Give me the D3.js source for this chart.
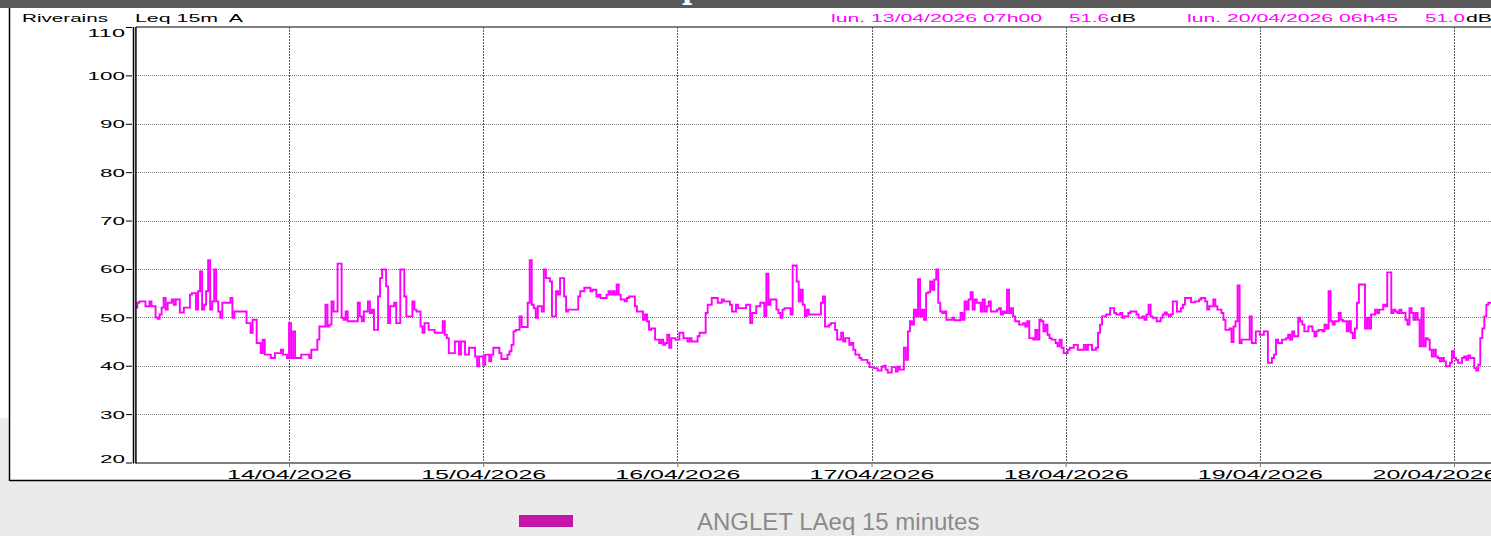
<!DOCTYPE html>
<html>
<head>
<meta charset="utf-8">
<script src="https://cdn.jsdelivr.net/npm/d3@7"></script>
<style>
  html, body { margin: 0; padding: 0; background: #fff; overflow: hidden; }
  svg { display: block; font-family: "Liberation Sans", Arial, sans-serif; }
</style>
</head>
<body>
<div id="chart"></div>
<script>
// Data: LAeq 15 min, first sample 13/04/2026 05h00, one value per quarter hour
var startTime = new Date(2026, 3, 13, 5, 0);
var stepMinutes = 15;
var laeq = [
  // 13/04
  52,53,53.3,53.3, 53.3,52.3,52.3,53.3, 52.3,52.3,50,49.7, 50.6,52,54,51.6, 53,53,53.7,52.6, 53.7,53.7,51,51,
  52,52,52,54.7, 55,55,51.6,55.4, 59.5,51.6,52.6,55.4, 61.8,51.6,53.3,59.9, 53.3,51.2,49.9,53, 53,53,53,54,
  49.9,51.2,51.2,51.2, 51.2,51.2,51.2,48.8, 48.8,46.8,49.5,49.5, 44.7,44.7,42.6,45.4, 42.3,42.3,42.3,41.6,
  41.6,42.6,42.6,42.6, 43.3,42.3,42.3,41.6,
  // 14/04
  48.8,41.6,47.1,41.6, 41.6,41.6,42.3,42.3, 42.3,42.3,41.6,43.3, 43.3,43.3,45.4,48.1, 48.1,48.1,52.6,48.1,
  48.5,53.3,51.2,51.2, 61.1,61.1,49.9,49.5, 51.2,49.2,49.2,49.2, 49.2,49.2,53,50.2, 49.2,51.2,51.2,53.3,
  50.9,51.6,47.4,47.4, 54.3,58.1,59.9,59.9, 56.4,48.8,52.3,52.3, 53,48.8,48.8,59.9, 59.9,54.3,50.2,50.2,
  50.2,53.3,51.6,51.2, 51.2,48.1,46.8,48.8, 48.8,47.4,47.4,47.4, 46.8,46.8,46.8,46.8, 49.2,46.4,45.7,42.6,
  42.6,42.6,45,45, 42.3,45,45,42.3, 42.3,43.7,43.7,43.7, 41.9,39.9,41.9,41.9,
  // 15/04
  40.2,42.3,42.3,40.9, 42.3,43.7,43.7,43.7, 42.6,41.4,41.4,41.4, 42.3,43,44.3,47.1, 47.4,47.4,50.2,48,
  48,48,53,61.8, 52.6,51.9,49.9,52.3, 52.3,51.2,59.9,58.1, 58.1,57.4,50.2,50.2, 55.4,54.7,58.1,58.1,
  54.3,51.2,51.6,51.6, 51.6,51.6,51.6,54.3, 55.4,55.4,56.1,56.1, 56.1,55.4,55.7,55.7, 54.3,54.7,54,54,
  54,54.7,55.4,54.7, 55.4,54.7,56.8,54.7, 53.7,53.7,53.3,54, 54.3,54.3,54.3,52.3, 51.2,51.2,51.2,49.5,
  50.6,49.2,47.4,47.7, 47.7,45.4,45.4,44.7, 45.4,44.3,44.7,46.4, 43.7,45.7,45.7,45.4,
  // 16/04
  45.4,46.8,46.8,45.7, 45.7,45,45.7,45, 45,45,46.1,46.8, 46.8,46.8,50.9,52.6, 52.6,54,54,54,
  53,53,53.7,53.3, 53.3,53.3,52.6,51.2, 51.2,52.6,51.9,51.9, 51.9,51.9,52.6,52.6, 48.8,50.9,50.9,52.3,
  52.3,53,53,50.2, 59,52.6,53.7,53.7, 53.7,51.6,50.9,49.9, 51.6,51.9,51.9,51.9, 50.6,60.7,60.7,57.4,
  53.3,55.7,52.6,50.2, 51.6,50.6,50.6,50.6, 50.6,50.6,50.6,53, 54.3,48.1,48.1,48.5, 48.8,48.8,47.4,45.4,
  45.4,46.8,45,45.7, 45.7,44.3,44.7,43.3, 42.3,42.3,41.6,41.2, 41.2,41.2,40.6,39.7,
  // 17/04
  39.7,39.5,39.5,39, 39,39.8,40,39.2, 38.6,38.6,39.7,39.7, 38.8,39.8,39.2,39.2, 43.7,41.2,47.1,49.2,
  48.5,51.6,50.2,57.9, 50.2,51.6,49.5,55, 55.2,57.4,55.7,57.8, 59.9,53,51.2,50.9, 51.2,49.5,49.5,49.5,
  49.9,49.4,49.4,49.4, 50.9,49.5,53.3,51.6, 53.7,55.2,51.6,53.7, 53,53,51.2,53.7, 51.2,52.3,53.3,51.2,
  51.2,51.2,51.6,51.9, 50.6,51.2,50.9,55.7, 50.9,51.9,50.2,49.2, 49.2,48.5,48.5,48.8, 48.1,49.2,45.7,45.7,
  45.4,47.4,45.4,49.5, 49.2,47.1,48.5,46.4, 45.7,45.4,45.4,44.7, 44,45.4,43.7,42.6,
  // 18/04
  42.6,43.3,43.7,43.7, 44.3,44.3,43.3,43.3, 43.3,44.3,43.3,44.3, 44.3,43.3,43.3,43.7, 46.8,48.5,50.2,50.2,
  50.6,50.6,51.9,51.9, 50.9,50.6,50.6,50.9, 49.9,50.2,50.2,50.9, 51.2,51.2,51.2,50.6, 49.9,49.9,50.2,49.5,
  50.6,52.6,50.2,49.9, 49.9,49.2,49.2,49.9, 50.6,51,50.6,50.2, 50.6,53.3,53.3,51.2, 51.2,51.9,52.6,54,
  54,54,53.1,53.1, 53.3,53.3,53.7,54, 54,53.3,51.6,52.3, 52.3,53.7,52.3,51.6, 51.6,50.9,49.5,47.4,
  47.4,47.7,44.9,48.1, 49.2,56.6,44.7,45.4, 45.4,45.4,45.4,50.2, 44.7,44.7,47.1,47.1,
  // 19/04
  46.4,46.4,47.1,47.1, 40.6,40.6,41.6,42.3, 45.4,44.7,44.7,45.4, 45.4,45.7,46.4,45.4, 47.1,46.1,46.1,49.9,
  49.2,48.5,47.1,47.1, 48.1,48.1,47.1,46.1, 47.1,47.4,47.4,47.1, 48.5,47.7,55.4,49.2, 48.5,49.2,49.2,50.9,
  49.5,49.2,49.2,47.1, 49.2,46.8,45.7,47.7, 53,56.8,56.8,56.8, 47.7,49.9,47.7,50.6, 50.6,51.6,50.9,51.6,
  51.6,52.6,52.3,59.3, 59.3,50.9,51.6,51.2, 50.9,51.6,50.9,50.9, 49.5,48.5,51.9,50.9, 49.5,50.9,49.5,44,
  51.9,44,45.7,45.4, 43.3,41.9,43.3,41.9, 41.6,40.9,41.6,40.9, 39.9,39.9,40.6,43,
  // 20/04
  41.6,41.2,40.6,40.6, 41.6,41.9,41.2,42.1, 41.6,41.6,39.5,39, 40.2,45.7,47.7,50.2, 52.6,53,53,51.6,
  51.6,51.0
];

var yTicks = [20, 30, 40, 50, 60, 70, 80, 90, 100, 110];
var dayTicks = [14, 15, 16, 17, 18, 19, 20].map(d => new Date(2026, 3, d));
var headerLeft = ["Riverains", "Leq 15m  A"];
var cursorDates = ["lun. 13/04/2026 07h00", "lun. 20/04/2026 06h45"];
var cursorValues = ["51.6", "51.0"];
var legendLabel = "ANGLET LAeq 15 minutes";

var series = laeq.map((v, i) => ({ t: d3.timeMinute.offset(startTime, i * stepMinutes), v: v }));

// boiler plate
var svgWidth = 1491;
var svgHeight = 536;
var plot = { left: 136, right: 1497, top: 27, bottom: 462.5 };

var svg = d3.select("#chart")
  .append("svg")
  .attr("width", svgWidth)
  .attr("height", svgHeight);

// page background
svg.append("rect").attr("width", svgWidth).attr("height", svgHeight).attr("fill", "#fff");
svg.append("rect").attr("y", 418).attr("width", svgWidth).attr("height", svgHeight - 418).attr("fill", "#ebebeb");
svg.append("rect").attr("width", svgWidth).attr("height", 8).attr("fill", "#595959");

// bottom of the page title, cut by the top bar
svg.append("defs").append("clipPath").attr("id", "barClip")
  .append("rect").attr("width", svgWidth).attr("height", 8);
svg.append("text")
  .attr("clip-path", "url(#barClip)")
  .attr("x", 682).attr("y", -1)
  .style("font-family", "'DejaVu Serif', serif")
  .style("font-weight", "bold")
  .style("font-size", "28px")
  .attr("fill", "#fff")
  .text("p");

// chart panel
svg.append("rect").attr("x", 9.5).attr("y", 8).attr("width", svgWidth).attr("height", 472.5).attr("fill", "#fff");
svg.append("line").attr("x1", 9.5).attr("x2", 9.5).attr("y1", 8).attr("y2", 481)
  .attr("stroke", "#000").attr("stroke-width", 1.5);
svg.append("line").attr("x1", 9.5).attr("x2", svgWidth).attr("y1", 480.5).attr("y2", 480.5)
  .attr("stroke", "#000").attr("stroke-width", 1.5);

// scales
var x = d3.scaleTime()
  .domain([new Date(2026, 3, 13, 5, 5), new Date(2026, 3, 20, 5, 19)])
  .range([plot.left, plot.right]);
var y = d3.scaleLinear()
  .domain([20, 110])
  .range([plot.bottom, plot.top]);

// grid
svg.append("g").selectAll("line")
  .data(yTicks.filter(d => d > 20 && d < 110))
  .enter().append("line")
  .attr("x1", plot.left).attr("x2", plot.right)
  .attr("y1", d => Math.round(y(d)) + 0.5).attr("y2", d => Math.round(y(d)) + 0.5)
  .attr("stroke", "#808080").attr("stroke-dasharray", "1,1");

svg.append("g").selectAll("line")
  .data(dayTicks)
  .enter().append("line")
  .attr("x1", d => Math.round(x(d)) + 0.5).attr("x2", d => Math.round(x(d)) + 0.5)
  .attr("y1", plot.top).attr("y2", plot.bottom)
  .attr("stroke", "#5a5a5a").attr("stroke-dasharray", "2,1");

svg.append("line")
  .attr("x1", plot.left).attr("x2", plot.right)
  .attr("y1", plot.top).attr("y2", plot.top)
  .attr("stroke", "#555").attr("stroke-width", 1.3);

// x axis
var xAxis = svg.append("g")
  .attr("transform", `translate(0, 463)`)
  .call(d3.axisBottom(x).tickValues(dayTicks).tickSize(4).tickFormat(d3.timeFormat("%d/%m/%Y")));
xAxis.select(".domain").remove();
xAxis.selectAll(".tick line").attr("stroke", "#777");
xAxis.selectAll(".tick text")
  .attr("y", 16.3).attr("dy", null)
  .attr("fill", "#000")
  .attr("textLength", 125).attr("lengthAdjust", "spacingAndGlyphs")
  .attr("x", d => Math.min(0, plot.right - 62.5 - x(d)))
  .style("font-size", "13px").style("font-family", "'Liberation Sans', Arial, sans-serif");
svg.append("line")
  .attr("x1", plot.left).attr("x2", plot.right)
  .attr("y1", 463).attr("y2", 463)
  .attr("stroke", "#808080").attr("stroke-width", 2);

// data line
svg.append("clipPath").attr("id", "plotClip")
  .append("rect")
  .attr("x", plot.left).attr("y", plot.top)
  .attr("width", plot.right - plot.left).attr("height", plot.bottom - plot.top);

var line = d3.line()
  .x(d => x(d.t))
  .y(d => y(d.v))
  .curve(d3.curveStepAfter);

svg.append("path")
  .datum(series.concat([{ t: d3.timeMinute.offset(startTime, laeq.length * stepMinutes), v: laeq[laeq.length - 1] }]))
  .attr("clip-path", "url(#plotClip)")
  .attr("d", line)
  .attr("fill", "none")
  .attr("stroke", "#ff00ff")
  .attr("stroke-width", 1.9);

// y axis
var yAxis = svg.append("g")
  .attr("transform", `translate(132, 0)`)
  .call(d3.axisLeft(y).tickValues(yTicks).tickSize(6).tickPadding(1));
yAxis.select(".domain").remove();
yAxis.selectAll(".tick line").attr("stroke", "#000");
yAxis.selectAll(".tick text")
  .attr("x", -7).attr("dy", null)
  .attr("y", d => Math.max(36, Math.min(462.7, y(d) + 4)) - y(d))
  .attr("fill", "#000")
  .attr("textLength", d => String(d).length * 12.5).attr("lengthAdjust", "spacingAndGlyphs")
  .style("font-size", "11px").style("font-family", "'Liberation Sans', Arial, sans-serif");
[133.5, 135.9].forEach(function(xp) {
  svg.append("line")
    .attr("x1", xp).attr("x2", xp)
    .attr("y1", plot.top).attr("y2", 463.5)
    .attr("stroke", "#000").attr("stroke-width", 1.5);
});

// header texts
var header = svg.append("g").style("font-size", "10.5px");
header.append("text").attr("x", 22).attr("y", 22)
  .attr("textLength", 86).attr("lengthAdjust", "spacingAndGlyphs")
  .text(headerLeft[0]);
header.append("text").attr("x", 135).attr("y", 22)
  .attr("textLength", 108).attr("lengthAdjust", "spacingAndGlyphs")
  .style("white-space", "pre")
  .text(headerLeft[1]);

var cursorX = [831, 1187];
var valueX = [1069, 1425];
cursorDates.forEach(function(txt, i) {
  header.append("text").attr("x", cursorX[i]).attr("y", 22)
    .attr("fill", "#ff00ff")
    .attr("textLength", 211).attr("lengthAdjust", "spacingAndGlyphs")
    .text(txt);
  header.append("text").attr("x", valueX[i]).attr("y", 22)
    .attr("fill", "#ff00ff")
    .attr("textLength", 40).attr("lengthAdjust", "spacingAndGlyphs")
    .text(cursorValues[i]);
  header.append("text").attr("x", valueX[i] + 41).attr("y", 22)
    .attr("fill", "#000")
    .attr("textLength", 26).attr("lengthAdjust", "spacingAndGlyphs")
    .text("dB");
});

// legend
svg.append("rect")
  .attr("x", 519).attr("y", 515)
  .attr("width", 54).attr("height", 12)
  .attr("fill", "#c514a8");
svg.append("text")
  .attr("x", 697).attr("y", 530)
  .attr("fill", "#8a8a8a")
  .style("font-size", "24px")
  .text(legendLabel);
</script>
</body>
</html>
